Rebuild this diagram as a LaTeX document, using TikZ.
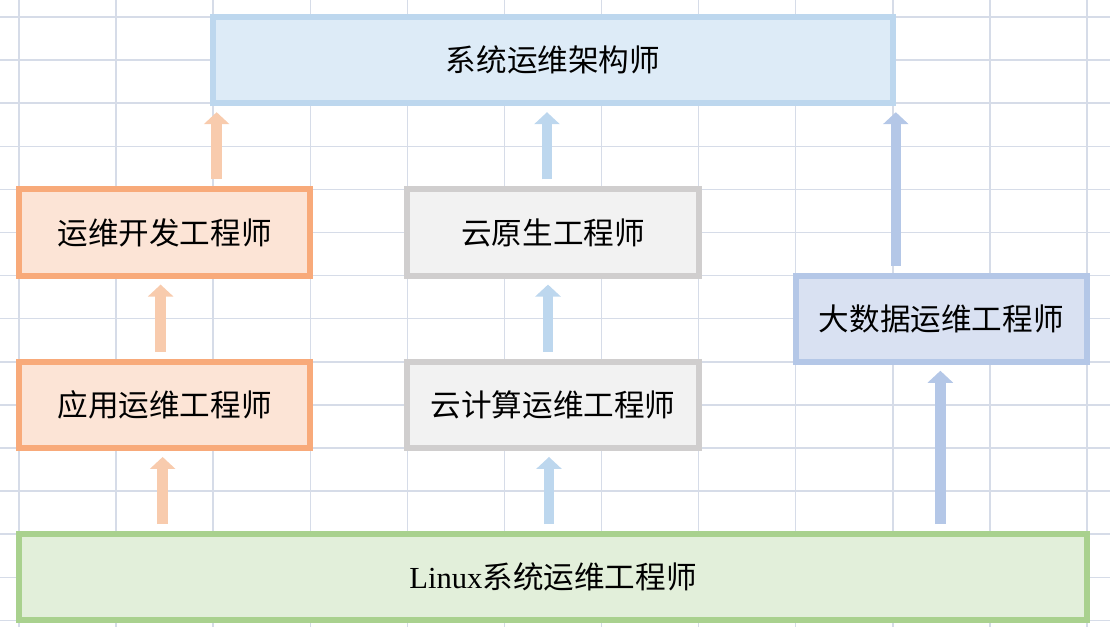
\documentclass[tikz,border=0pt]{standalone}
\usepackage{fontspec}
\setmainfont{Liberation Serif}
\newfontfamily\cjk{Noto Sans CJK SC}
\usetikzlibrary{arrows.meta}
\definecolor{gridcol}{HTML}{D6DCE8}
\definecolor{archfill}{HTML}{DDEBF7}
\definecolor{archline}{HTML}{BDD7EE}
\definecolor{devfill}{HTML}{FCE4D6}
\definecolor{devline}{HTML}{F8AA7A}
\definecolor{devarrow}{HTML}{F8CBAD}
\definecolor{cloudfill}{HTML}{F2F2F2}
\definecolor{cloudline}{HTML}{D0CECE}
\definecolor{cloudarrow}{HTML}{BDD7EE}
\definecolor{datafill}{HTML}{D9E1F2}
\definecolor{dataline}{HTML}{B4C7E7}
\definecolor{linuxfill}{HTML}{E2EFDA}
\definecolor{linuxline}{HTML}{A9D18E}
\begin{document}
\begin{tikzpicture}[x=48.55pt, y=-21.55pt,
    gridline/.style={draw=gridcol, line width=0.75pt},
    role/.style={line width=3pt, minimum width=145.65pt, minimum height=43.1pt,
      inner sep=0pt, font=\fontsize{15.3}{18}\selectfont\cjk},
    devbox/.style={role, draw=devline, fill=devfill},
    cloudbox/.style={role, draw=cloudline, fill=cloudfill},
    up/.style={line width=5.3pt, -{Triangle[width=12.5pt,length=6pt]},
      shorten <=3.5pt, shorten >=3pt},
  ]
  \useasboundingbox (-0.1957,-0.3944) rectangle (11.2369,14.1624);
  % background grid
  \foreach \i in {0,...,11}
    \draw[gridline] (\i,-0.3944) -- (\i,14.1624);
  \foreach \j in {0,...,14}
    \draw[gridline] (-0.1957,\j) -- (11.2369,\j);
  % roles
  \node[role, draw=archline, fill=archfill, minimum width=339.85pt] (architect) at (5.5,1) {系统运维架构师};
  \node[devbox] (devops) at (1.5,5) {运维开发工程师};
  \node[devbox] (appops) at (1.5,9) {应用运维工程师};
  \node[cloudbox] (native) at (5.5,5) {云原生工程师};
  \node[cloudbox] (cloudops) at (5.5,9) {云计算运维工程师};
  \node[role, draw=dataline, fill=datafill] (bigdata) at (9.5,7) {大数据运维工程师};
  \node[role, draw=linuxline, fill=linuxfill, minimum width=534.05pt] (linux) at (5.5,13) {{\rmfamily Linux}系统运维工程师};
  % left path
  \draw[up, draw=devarrow] ([xshift=-1pt]linux.north -| appops.north) -- ([xshift=-1pt]appops.south);
  \draw[up, draw=devarrow] ([xshift=-2pt]appops.north) -- ([xshift=-2pt]devops.south);
  \draw[up, draw=devarrow] ([xshift=26pt]devops.north) -- ([xshift=26pt]devops.north |- architect.south);
  % middle path
  \draw[up, draw=cloudarrow] ([xshift=-2pt]linux.north -| cloudops.north) -- ([xshift=-2pt]cloudops.south);
  \draw[up, draw=cloudarrow] ([xshift=-2.5pt]cloudops.north) -- ([xshift=-2.5pt]native.south);
  \draw[up, draw=cloudarrow] ([xshift=-3pt]native.north) -- ([xshift=-3pt]native.north |- architect.south);
  % right path
  \draw[up, draw=dataline] ([xshift=-0.5pt]linux.north -| bigdata.north) -- ([xshift=-0.5pt]bigdata.south);
  \draw[up, draw=dataline] (bigdata.north -| architect.east) -- (architect.south east);
\end{tikzpicture}
\end{document}
